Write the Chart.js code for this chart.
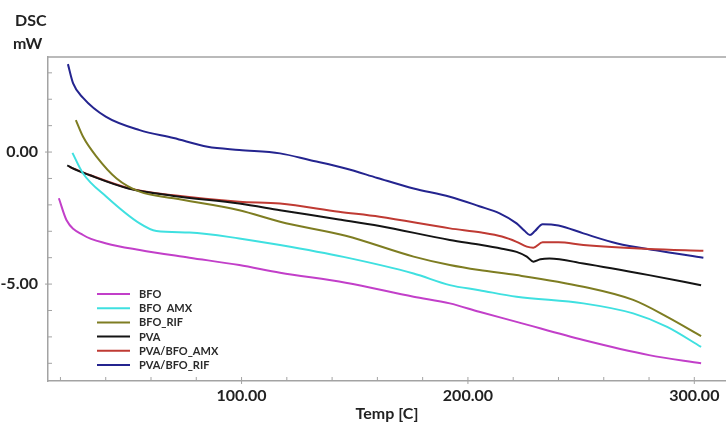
<!DOCTYPE html>
<html>
<head>
<meta charset="utf-8">
<title>DSC</title>
<script src="https://cdn.jsdelivr.net/npm/chart.js@4/dist/chart.umd.min.js"></script>
<style>
  html, body { margin: 0; padding: 0; background: #fff; }
  #wrap { width: 726px; height: 423px; position: relative; }
</style>
</head>
<body>
<div id="wrap"><canvas id="dsc"></canvas></div>
<script>
/* ---------- Data ---------- */
const seriesNames = ["BFO", "BFO  AMX", "BFO_RIF", "PVA", "PVA/BFO_AMX", "PVA/BFO_RIF"];
const seriesColors = ["#c23fc9", "#3fe0e0", "#7e7d22", "#141414", "#bf3a33", "#24248f"];

const bfoT = [19.3, 22.7, 30, 40.3, 55, 77, 99, 117, 146, 176, 192, 205, 221.5, 251, 280, 303];
const bfoV = [-1.75, -2.58, -3.14, -3.46, -3.71, -4.0, -4.28, -4.57, -4.95, -5.48, -5.73, -6.05, -6.43, -7.12, -7.69, -8.0];

const bfoAmxT = [25.3, 30, 40.3, 55, 62.4, 77, 99, 117, 145, 176, 192, 205, 221.5, 251, 273, 288, 303];
const bfoAmxV = [-0.03, -0.81, -1.69, -2.7, -2.99, -3.05, -3.27, -3.52, -3.97, -4.6, -5.04, -5.23, -5.48, -5.73, -6.11, -6.62, -7.38];

const bfoRifT = [26.8, 30, 36, 44.8, 55, 70, 99, 117, 146, 176, 192, 205, 221.5, 251, 273, 288, 303];
const bfoRifV = [1.21, 0.58, -0.18, -1.0, -1.5, -1.75, -2.2, -2.64, -3.17, -3.96, -4.28, -4.47, -4.66, -5.1, -5.6, -6.24, -6.97];

const pvaT = [23, 25, 33, 50, 70, 99, 117, 143, 161, 192, 206, 215, 221.5, 226, 228.9, 232, 236, 251, 280, 303];
const pvaV = [-0.5, -0.6, -0.88, -1.38, -1.66, -1.95, -2.2, -2.55, -2.8, -3.33, -3.52, -3.66, -3.78, -3.96, -4.15, -4.06, -4.03, -4.22, -4.66, -5.04];

const pvaAmxT = [24, 33, 50.6, 70, 99, 117, 143, 161, 192, 206, 215, 221.5, 226, 228.9, 233, 240, 251, 280, 304];
const pvaAmxV = [-0.56, -0.87, -1.38, -1.64, -1.88, -1.95, -2.26, -2.45, -2.89, -3.05, -3.2, -3.4, -3.58, -3.62, -3.42, -3.42, -3.52, -3.67, -3.74];

const pvaRifT = [23.3, 25.6, 30, 40, 55, 70, 85, 99, 117, 130, 146, 160, 176, 192, 205, 214, 221.5, 225, 227.4, 229.5, 233, 240, 251, 266, 283, 304];
const pvaRifV = [3.33, 2.6, 2.05, 1.34, 0.83, 0.53, 0.2, 0.08, -0.05, -0.3, -0.62, -0.98, -1.38, -1.69, -2.05, -2.32, -2.7, -2.98, -3.14, -3.0, -2.73, -2.78, -3.08, -3.46, -3.72, -4.0];

const xTicks = [20, 40, 60, 80, 100, 120, 140, 160, 180, 200, 220, 240, 260, 280, 300];
const xLabelled = [100, 200, 300];
const yTicks = [3, 2, 1, 0, -1, -2, -3, -4, -5, -6, -7, -8];
const yLabelled = [0, -5];

(function () {
  "use strict";

  const FONT = "Lato, 'Open Sans', sans-serif";
  const axisGrey = "#a3a3a3";
  const ink = "#222";

  const temps = [bfoT, bfoAmxT, bfoRifT, pvaT, pvaAmxT, pvaRifT];
  const values = [bfoV, bfoAmxV, bfoRifV, pvaV, pvaAmxV, pvaRifV];

  const datasets = seriesNames.map((name, i) => ({
    label: name,
    data: temps[i].map((t, k) => ({ x: t, y: values[i][k] })),
    borderColor: seriesColors[i],
    backgroundColor: seriesColors[i],
    borderWidth: 2,
    pointRadius: 0,
    showLine: true,
    fill: false,
    cubicInterpolationMode: "monotone"
  }));

  /* ---------- Frame, inward ticks, legend, titles ---------- */
  const decor = {
    id: "decor",
    afterDatasetsDraw(chart) {
      const ctx = chart.ctx;
      const a = chart.chartArea;
      const xs = chart.scales.x, ys = chart.scales.y;
      ctx.save();

      // top border of the frame
      ctx.strokeStyle = axisGrey;
      ctx.lineWidth = 1.5;
      ctx.beginPath();
      ctx.moveTo(a.left, a.top);
      ctx.lineTo(a.right, a.top);
      ctx.stroke();

      // tick marks (minor point inward, major cross the axis)
      ctx.lineWidth = 1;
      xTicks.forEach(v => {
        const px = xs.getPixelForValue(v);
        const major = xLabelled.includes(v);
        ctx.beginPath();
        ctx.moveTo(px, a.bottom + (major ? 3 : 0));
        ctx.lineTo(px, a.bottom - 4);
        ctx.stroke();
      });
      yTicks.forEach(v => {
        const py = ys.getPixelForValue(v);
        const major = yLabelled.includes(v);
        ctx.beginPath();
        ctx.moveTo(a.left - (major ? 3 : 0), py);
        ctx.lineTo(a.left + 4, py);
        ctx.stroke();
      });

      // legend inside the plot
      ctx.font = "bold 11px " + FONT;
      ctx.textBaseline = "middle";
      ctx.textAlign = "left";
      chart.data.datasets.forEach((ds, i) => {
        const y = 294 + i * 14.2;
        ctx.strokeStyle = ds.borderColor;
        ctx.lineWidth = 2;
        ctx.beginPath();
        ctx.moveTo(97, y);
        ctx.lineTo(130, y);
        ctx.stroke();
        ctx.fillStyle = "#2a2a2a";
        ctx.fillText(ds.label, 139, y + 0.5);
      });

      // axis titles
      ctx.fillStyle = ink;
      ctx.font = "bold 16px " + FONT;
      ctx.fillText("DSC", 15, 21);
      ctx.fillText("mW", 13, 44);
      ctx.textAlign = "center";
      ctx.fillText("Temp [C]", (a.left + a.right) / 2, 414);
      ctx.restore();
    }
  };

  new Chart(document.getElementById("dsc"), {
    type: "scatter",
    data: { datasets },
    options: {
      responsive: true,
      maintainAspectRatio: false,
      animation: false,
      layout: { padding: { top: 57, left: 0, right: 0, bottom: 0 } },
      plugins: { legend: { display: false }, tooltip: { enabled: false } },
      scales: {
        x: {
          type: "linear",
          min: 14.5,
          max: 314,
          afterFit: (s) => { s.height = 42; },
          afterBuildTicks: (s) => { s.ticks = xTicks.map(v => ({ value: v })); },
          border: { display: true, color: axisGrey, width: 1.5 },
          grid: { display: false, drawTicks: false },
          ticks: {
            autoSkip: false,
            maxRotation: 0,
            padding: 5,
            color: ink,
            font: { family: FONT, size: 16, weight: "bold" },
            callback: (v) => xLabelled.includes(v) ? v.toFixed(2) : ""
          }
        },
        y: {
          type: "linear",
          min: -8.67,
          max: 3.6,
          afterFit: (s) => { s.width = 48; },
          afterBuildTicks: (s) => { s.ticks = yTicks.map(v => ({ value: v })); },
          border: { display: true, color: axisGrey, width: 1.5 },
          grid: { display: false, drawTicks: false },
          ticks: {
            autoSkip: false,
            padding: 10,
            color: ink,
            font: { family: FONT, size: 16, weight: "bold" },
            callback: (v) => yLabelled.includes(v) ? v.toFixed(2) : ""
          }
        }
      }
    },
    plugins: [decor]
  });
})();
</script>
</body>
</html>
